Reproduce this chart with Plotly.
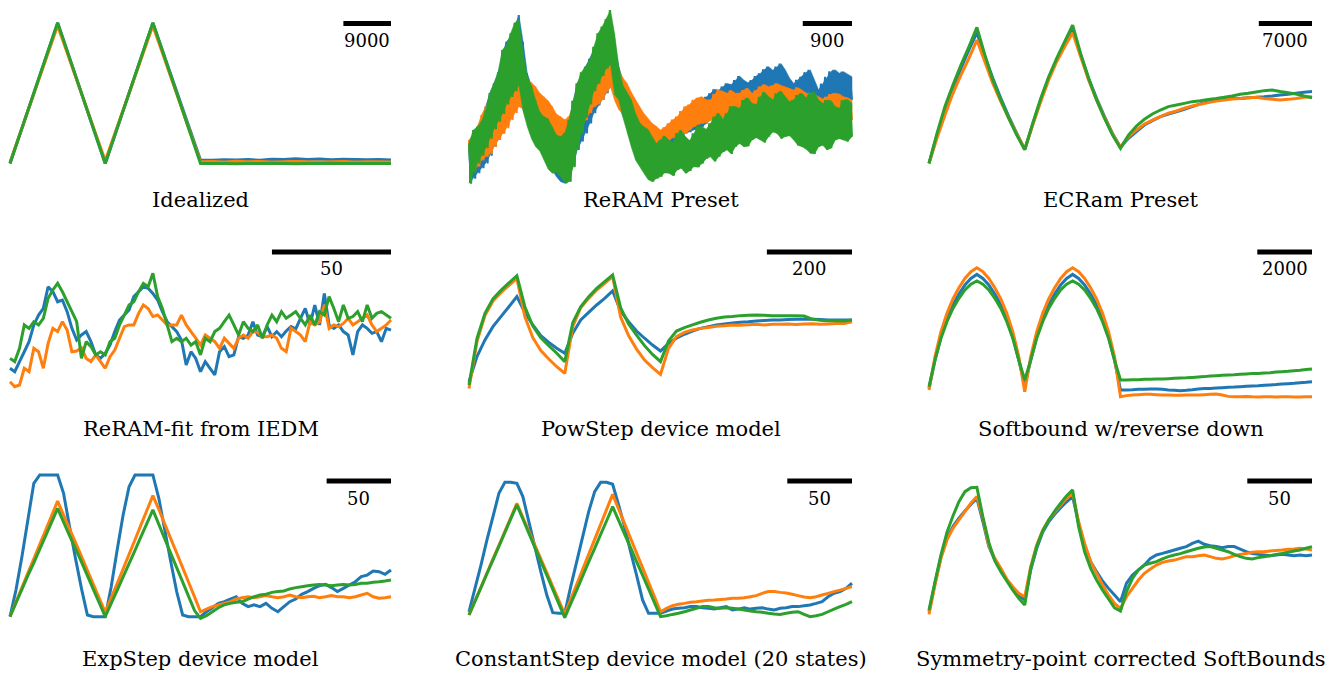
import numpy as np
import plotly.graph_objects as go

W, H = 1326, 675
BLUE, ORANGE, GREEN = "#1f77b4", "#ff7f0e", "#2ca02c"
FONT = "DejaVu Serif"

# ---------------------------------------------------------------- panel meta
titles = [
    "Idealized", "ReRAM Preset", "ECRam Preset",
    "ReRAM-fit from IEDM", "PowStep device model", "Softbound w/reverse down",
    "ExpStep device model", "ConstantStep device model (20 states)",
    "Symmetry-point corrected SoftBounds",
]
pulse_span = [72000, 7000, 50400, 160, 900, 14000, 296, 296, 296]
bar_len = [9000, 900, 7000, 50, 200, 2000, 50, 50, 50]
bar_text = ["9000", "900", "7000", "50", "200", "2000", "50", "50", "50"]

# ---------------------------------------------------------------- Idealized
ideal_x = [0, 9000, 18000, 27000, 36000, 38250, 40500, 42750, 45000, 47250,
           49500, 51750, 54000, 56250, 58500, 60750, 63000, 65250, 67500,
           69750, 72000]
ideal_blue = [14.0, 87.9, 14.0, 87.9, 15.8, 15.6, 15.9, 15.8, 16.0, 15.7, 16.2,
              16.0, 16.4, 16.1, 16.3, 15.9, 16.2, 16.0, 15.9, 16.1, 15.8]
ideal_orange = [14.6, 86.4, 15.4, 86.4, 14.9, 15.0, 14.8, 15.1, 14.9, 15.0, 14.8,
                14.9, 15.0, 14.9, 14.8, 14.9, 15.0, 14.8, 14.9, 14.9, 14.8]
ideal_green = [14.0, 88.1, 14.0, 88.1, 14.0, 13.9, 14.0, 13.8, 14.0, 13.9, 14.1,
               13.9, 13.8, 14.0, 13.9, 14.1, 13.9, 14.0, 13.9, 14.0, 14.0]

# ---------------------------------------------------------------- ReRAM preset
# upper / lower extremes of the fast pulse-to-pulse noise, per device
reram_blue_hi = [22.8, 29.5, 33.3, 37.0, 43.9, 51.0, 56.1, 62.0, 71.9, 78.0, 80.7, 86.0,
                 92.1, 78.0, 61.4, 55.0, 49.1, 44.5, 40.4, 37.0, 33.3, 30.5, 29.8, 31.0,
                 36.8, 47.0, 56.1, 60.5, 64.9, 69.0, 73.7, 79.5, 82.5, 85.0, 89.5, 78.0,
                 64.9, 57.5, 50.9, 46.0, 43.9, 42.0, 38.6, 34.0, 31.6, 31.5, 29.8, 30.0,
                 31.6, 33.5, 35.1, 37.5, 40.4, 42.5, 43.9, 45.5, 47.4, 49.0, 50.9, 53.0,
                 52.6, 54.5, 56.1, 55.5, 57.9, 60.0, 57.9, 56.5, 57.9, 60.0, 61.4, 63.5,
                 64.9, 63.0, 64.9, 66.5, 63.2, 59.0, 56.1, 58.0, 59.6, 62.0, 63.2, 58.0,
                 52.6, 56.0, 59.6, 62.5, 63.2, 61.5, 62.3, 61.0, 59.6]
reram_blue_lo = [3.5, 6.0, 8.8, 11.5, 14.0, 18.0, 22.8, 26.5, 29.8, 34.0, 38.6, 43.5,
                 49.1, 42.0, 35.1, 29.5, 24.6, 21.0, 17.5, 14.0, 10.5, 7.0, 4.4, 3.5,
                 4.4, 12.5, 21.1, 25.5, 29.8, 35.0, 40.4, 44.5, 47.4, 51.0, 54.4, 49.0,
                 43.9, 38.5, 33.3, 29.5, 26.3, 23.5, 21.1, 20.0, 19.3, 20.5, 21.1, 21.5,
                 22.8, 24.5, 26.3, 28.0, 29.8, 30.5, 31.6, 32.5, 33.3, 35.0, 36.8, 37.5,
                 38.6, 40.5, 42.1, 43.0, 43.9, 44.5, 45.6, 46.5, 47.4, 47.0, 47.4, 48.5,
                 49.1, 50.5, 50.9, 50.0, 49.1, 48.0, 47.4, 47.0, 47.4, 48.5, 49.1, 47.5,
                 45.6, 46.0, 47.4, 48.5, 49.1, 48.5, 49.1, 48.0, 47.4]
reram_orange_hi = [26.3, 29.0, 33.3, 39.5, 43.9, 47.0, 52.6, 57.5, 59.6, 61.0, 64.9, 67.0,
                   67.5, 61.5, 57.9, 56.5, 54.4, 51.0, 49.1, 47.0, 43.9, 40.0, 38.6, 37.0,
                   38.6, 44.0, 49.1, 52.0, 56.1, 60.5, 63.2, 65.0, 68.4, 73.5, 77.2, 70.0,
                   63.2, 59.0, 56.1, 51.5, 47.4, 44.0, 40.4, 37.5, 35.1, 33.5, 31.6, 33.0,
                   35.1, 37.0, 38.6, 41.5, 43.9, 45.0, 47.4, 48.5, 49.1, 47.5, 47.4, 50.5,
                   52.6, 52.0, 50.9, 52.5, 50.9, 51.0, 52.6, 53.5, 50.9, 52.5, 54.4, 55.5,
                   54.4, 55.0, 56.1, 55.0, 54.4, 53.5, 52.6, 54.0, 52.6, 51.0, 50.9, 50.5,
                   49.1, 48.0, 49.1, 50.5, 50.9, 50.5, 49.1, 48.5, 47.4]
reram_orange_lo = [8.8, 10.0, 12.3, 15.5, 17.5, 19.0, 22.8, 26.5, 29.8, 32.5, 36.8, 40.5,
                   43.9, 42.5, 42.1, 40.0, 38.6, 35.5, 33.3, 31.0, 28.1, 25.0, 22.8, 21.5,
                   22.8, 26.5, 29.8, 33.0, 36.8, 40.5, 43.9, 45.0, 47.4, 51.5, 54.4, 47.0,
                   42.1, 40.0, 36.8, 32.5, 29.8, 28.5, 26.3, 25.0, 24.6, 23.0, 22.8, 24.5,
                   26.3, 27.5, 28.1, 28.5, 29.8, 31.5, 33.3, 34.5, 35.1, 35.5, 36.8, 37.5,
                   38.6, 38.0, 38.6, 39.5, 40.4, 41.5, 40.4, 39.0, 40.4, 41.5, 42.1, 43.0,
                   43.9, 43.5, 42.1, 41.0, 40.4, 39.5, 38.6, 37.5, 36.8, 37.5, 36.8, 37.5,
                   38.6, 35.5, 33.3, 31.5, 29.8, 32.5, 35.1, 36.5, 36.8]
reram_green_hi = [24.6, 31.5, 33.3, 36.0, 42.1, 51.0, 56.1, 62.0, 73.7, 76.0, 82.5, 88.0,
                  89.5, 72.0, 59.6, 55.0, 47.4, 41.0, 38.6, 37.5, 33.3, 29.0, 28.1, 30.0,
                  36.8, 47.0, 56.1, 62.0, 64.9, 68.0, 75.4, 82.5, 86.0, 90.0, 94.7, 82.0,
                  64.9, 55.0, 50.9, 47.5, 40.4, 35.5, 33.3, 32.0, 28.1, 24.5, 26.3, 28.5,
                  26.3, 25.0, 29.8, 31.5, 28.1, 26.0, 29.8, 33.5, 33.3, 32.0, 35.1, 38.5,
                  40.4, 37.5, 40.4, 44.0, 43.9, 43.0, 47.4, 48.5, 45.6, 45.0, 49.1, 51.5,
                  49.1, 47.5, 50.9, 52.0, 49.1, 46.5, 47.4, 50.0, 50.9, 48.5, 50.9, 51.5,
                  47.4, 45.5, 47.4, 47.0, 43.9, 43.0, 47.4, 47.5, 45.6]
reram_green_lo = [3.5, 9.0, 14.0, 18.0, 22.0, 27.0, 32.0, 36.0, 40.0, 45.0, 49.0, 52.0,
                  55.0, 41.5, 33.3, 27.0, 22.8, 20.5, 15.8, 11.0, 8.8, 9.5, 7.0, 4.0,
                  4.4, 12.0, 22.0, 30.0, 38.0, 45.0, 52.0, 56.0, 60.0, 64.0, 66.0, 50.0,
                  47.4, 38.0, 29.8, 22.5, 15.8, 12.5, 8.8, 5.5, 4.4, 6.0, 7.0, 9.0,
                  8.8, 7.5, 10.5, 11.5, 8.8, 10.0, 12.3, 12.0, 14.0, 16.5, 17.5, 15.0,
                  17.5, 20.0, 21.1, 19.0, 22.8, 24.5, 22.8, 23.0, 26.3, 27.5, 26.3, 25.0,
                  28.1, 30.5, 29.8, 27.0, 28.1, 28.5, 26.3, 23.5, 22.8, 21.5, 19.3, 19.0,
                  22.8, 23.5, 21.1, 22.0, 26.3, 27.0, 26.3, 25.5, 28.1]

# ---------------------------------------------------------------- ECRam preset
ecram_blue = [14.0, 28.9, 42.1, 53.5, 64.0, 73.7, 82.8, 70.2, 58.8, 48.2, 38.6, 29.8,
              21.4, 34.7, 47.4, 58.8, 68.4, 76.3, 84.2, 71.1, 58.8, 48.2, 38.6, 29.8,
              22.5, 27.2, 30.7, 34.2, 36.5, 38.6, 40.0, 41.2, 42.5, 43.9, 45.3, 46.5,
              47.4, 47.7, 48.1, 48.2, 48.6, 48.8, 49.1, 49.5, 50.0, 50.4, 50.9, 51.4, 51.8]
ecram_orange = [14.0, 27.2, 39.5, 50.9, 60.5, 69.3, 78.9, 67.5, 56.1, 46.5, 37.7, 29.5,
                21.4, 34.2, 46.5, 57.9, 67.5, 75.4, 82.8, 70.2, 57.9, 47.4, 38.2, 29.5,
                22.5, 28.1, 31.6, 34.7, 36.8, 38.6, 40.4, 41.6, 43.0, 44.2, 45.1, 46.0,
                46.8, 47.4, 47.9, 48.2, 48.6, 48.8, 48.2, 47.7, 47.4, 47.7, 48.2, 48.8, 49.1]
ecram_green = [14.0, 29.8, 43.9, 55.3, 65.8, 75.4, 85.6, 71.1, 57.9, 47.4, 37.7, 28.9,
               21.1, 35.1, 48.2, 59.6, 69.3, 78.1, 86.8, 71.9, 58.8, 47.4, 37.7, 28.9,
               21.9, 28.9, 33.7, 37.2, 40.0, 42.1, 43.9, 44.7, 45.6, 46.5, 47.0, 47.7,
               48.2, 48.8, 49.5, 50.4, 50.9, 51.6, 52.3, 52.6, 51.8, 51.2, 50.5, 49.5, 48.6]

# ---------------------------------------------------------------- ReRAM-fit from IEDM
fit_blue = [24.6, 22.8, 28.1, 33.3, 38.6, 47.4, 52.6, 56.1, 67.5, 64.9, 59.6, 60.5,
            54.4, 45.6, 39.5, 42.1, 43.9, 38.6, 31.6, 29.8, 32.5, 36.8, 43.9, 50.0,
            52.6, 55.3, 62.3, 64.9, 67.5, 66.7, 64.0, 60.5, 54.4, 49.1, 46.5, 43.9,
            39.5, 26.3, 33.3, 29.8, 22.8, 28.1, 24.6, 21.1, 33.3, 36.0, 30.7, 31.6,
            41.2, 40.4, 42.1, 49.1, 42.1, 41.2, 46.5, 41.2, 43.9, 41.2, 44.2, 46.5,
            45.3, 50.9, 56.1, 47.4, 57.9, 47.4, 64.0, 47.4, 45.6, 47.4, 43.9, 42.1,
            31.6, 43.9, 47.4, 45.6, 43.0, 43.9, 38.6, 45.6, 44.7]
fit_orange = [17.5, 14.9, 15.8, 24.6, 22.8, 35.1, 33.3, 24.6, 37.7, 45.6, 43.9, 49.1,
              44.7, 33.3, 33.7, 35.4, 29.8, 28.1, 31.6, 28.1, 24.6, 30.7, 34.2, 40.4,
              46.5, 47.4, 47.4, 53.5, 57.9, 56.1, 51.8, 52.6, 50.0, 47.4, 47.4, 47.4,
              52.6, 47.4, 43.9, 40.4, 36.8, 42.1, 40.4, 38.6, 35.1, 40.4, 37.7, 35.1,
              40.4, 42.1, 40.4, 43.9, 43.5, 41.2, 41.2, 42.1, 40.4, 35.1, 33.3, 45.6,
              43.9, 42.1, 38.6, 49.1, 47.4, 49.1, 57.9, 45.6, 47.4, 46.5, 48.2, 50.9,
              47.4, 49.1, 50.9, 52.6, 47.4, 43.9, 45.6, 47.4, 50.0]
fit_green = [29.8, 28.1, 35.1, 47.4, 45.6, 49.1, 47.4, 50.9, 61.4, 65.8, 69.3, 64.9,
             59.6, 54.4, 49.1, 29.8, 38.6, 36.0, 31.6, 33.3, 31.6, 38.6, 40.4, 47.4,
             52.6, 57.9, 59.6, 64.9, 69.3, 67.5, 74.6, 62.3, 56.1, 47.4, 38.6, 40.4,
             38.6, 40.4, 36.8, 38.6, 31.6, 40.4, 38.6, 43.9, 45.6, 49.1, 52.6, 47.4,
             42.1, 49.1, 45.6, 43.9, 47.4, 40.4, 47.4, 52.6, 49.1, 54.4, 50.9, 52.6,
             54.4, 50.9, 47.4, 52.6, 47.4, 54.4, 52.6, 62.3, 56.1, 49.1, 57.9, 50.9,
             51.8, 54.4, 49.1, 57.9, 50.9, 53.5, 54.4, 52.6, 50.9]

# ---------------------------------------------------------------- PowStep
pow_blue = [17.5, 30.7, 39.5, 46.5, 51.8, 57.0, 62.3, 54.0, 47.4, 41.8, 38.2, 35.1,
            32.5, 43.0, 50.0, 54.0, 57.9, 61.4, 65.3, 54.7, 49.1, 44.2, 40.4, 36.8,
            33.7, 37.7, 40.4, 42.5, 44.2, 45.6, 46.5, 47.4, 47.9, 48.4, 48.8, 49.1,
            49.5, 49.8, 50.0, 50.0, 50.2, 50.4, 50.4, 50.4, 50.2, 50.0, 50.0, 50.0, 50.0]
pow_orange = [14.0, 38.6, 52.3, 60.0, 64.4, 68.2, 71.9, 51.8, 40.7, 33.9, 29.5, 25.4,
              21.9, 46.5, 56.5, 61.4, 65.8, 69.3, 72.8, 51.6, 41.8, 34.7, 28.9, 24.9,
              21.4, 35.1, 41.2, 43.5, 44.7, 45.6, 46.1, 46.7, 47.0, 47.4, 47.2, 47.5,
              47.7, 47.4, 47.8, 47.7, 47.9, 47.6, 47.9, 48.0, 47.7, 47.9, 48.1, 48.2, 49.1]
pow_green = [15.8, 40.4, 53.5, 61.1, 65.6, 69.5, 73.3, 57.0, 46.8, 40.7, 36.5, 32.5,
             28.1, 48.6, 57.0, 62.3, 66.7, 70.2, 73.7, 56.5, 47.9, 42.1, 36.5, 31.9,
             28.1, 38.9, 44.2, 46.0, 47.4, 48.8, 50.0, 50.9, 51.6, 51.9, 52.3, 52.5,
             52.6, 52.5, 52.3, 52.3, 52.3, 52.3, 52.1, 50.5, 49.8, 49.6, 49.6, 49.5, 50.0]

# ---------------------------------------------------------------- Softbound w/reverse down
sb_blue = [14.0, 28.9, 41.2, 50.5, 57.9, 63.7, 68.4, 71.9, 74.0,
           71.9, 68.4, 63.7, 57.9, 50.5, 41.2, 28.9, 15.8,
           28.9, 41.2, 50.5, 57.9, 63.7, 68.4, 71.9, 74.0,
           71.9, 68.4, 63.7, 57.9, 50.5, 41.2, 28.9, 13.2,
           13.2, 13.3, 13.5, 13.5, 13.7, 13.7, 13.5, 13.2, 13.0, 12.8, 13.0, 13.3,
           13.7, 13.9, 14.0, 14.2, 14.4, 14.6, 14.7, 14.9, 15.1, 15.3, 15.4, 15.6,
           15.8, 16.0, 16.3, 16.5, 16.7, 17.0, 17.2, 17.5]
sb_orange = [13.2, 30.7, 43.9, 53.5, 61.1, 67.0, 71.9, 75.4, 77.5,
             75.4, 71.9, 67.0, 61.1, 53.5, 43.9, 30.7, 12.3,
             30.7, 43.9, 53.5, 61.1, 67.0, 71.9, 75.4, 77.5,
             75.4, 71.9, 67.0, 61.1, 53.5, 43.9, 30.7, 9.6,
             10.2, 10.5, 10.7, 10.9, 10.9, 10.7, 10.5, 10.5, 10.4, 10.4, 10.5, 10.5,
             10.5, 10.7, 10.9, 11.1, 10.5, 9.8, 9.6, 9.6, 9.8, 9.6, 9.5, 9.6,
             9.6, 9.5, 9.6, 9.6, 9.5, 9.5, 9.6, 9.6]
sb_green = [14.9, 28.9, 40.4, 49.1, 56.1, 61.4, 65.8, 68.8, 70.5,
            68.8, 65.8, 61.4, 56.1, 49.1, 40.4, 28.9, 18.4,
            28.9, 40.4, 49.1, 56.1, 61.4, 65.8, 68.8, 70.5,
            68.8, 65.8, 61.4, 56.1, 49.1, 40.4, 28.9, 18.4,
            18.4, 18.6, 18.6, 18.8, 18.8, 18.9, 18.9, 19.1, 19.3, 19.5, 19.6, 19.8,
            20.0, 20.2, 20.5, 20.7, 20.9, 21.1, 21.2, 21.4, 21.6, 21.8, 21.9, 22.1,
            22.3, 22.6, 22.8, 23.0, 23.3, 23.5, 23.9, 24.2]

# ---------------------------------------------------------------- ExpStep
exp_blue = [14.9, 28.9, 46.5, 65.8, 85.1, 89.5, 89.5, 89.5, 89.5,
            79.8, 62.3, 45.6, 29.8, 15.8, 14.9, 14.9, 14.9,
            30.7, 50.0, 68.4, 83.3, 89.5, 89.5, 89.5, 89.5,
            77.2, 60.5, 43.9, 28.1, 15.8, 14.9, 14.9, 14.9,
            17.5, 19.6, 21.9, 22.8, 24.2, 25.4, 21.9, 20.2, 21.1, 20.2, 21.9, 19.3,
            17.5, 20.2, 22.8, 24.2, 26.7, 28.1, 29.8, 31.2, 31.9, 30.2, 28.1, 29.8,
            31.6, 33.3, 36.0, 36.8, 38.9, 38.6, 37.2, 39.5]
exp_orange = [14.9, 22.6, 30.2, 37.9, 45.3, 53.0, 60.5, 68.1, 75.8,
              68.4, 61.1, 54.0, 46.7, 39.3, 31.9, 24.6, 17.2,
              24.9, 32.3, 40.0, 47.7, 55.4, 63.2, 70.9, 78.6,
              71.4, 63.7, 56.0, 48.4, 40.7, 33.0, 25.3, 17.5,
              18.9, 20.2, 21.1, 21.9, 22.8, 24.2, 24.9, 25.4, 24.9, 25.4, 26.0, 25.4,
              24.9, 25.4, 26.3, 25.4, 24.9, 25.4, 25.6, 24.9, 25.4, 26.0, 25.4, 25.4,
              24.9, 25.4, 26.3, 27.2, 25.4, 24.6, 24.9, 25.4]
exp_green = [14.9, 22.1, 29.3, 36.5, 43.2, 50.4, 57.5, 64.7, 71.9,
             64.7, 57.5, 50.9, 43.7, 36.5, 29.3, 22.1, 14.9,
             21.9, 28.8, 35.8, 42.8, 49.8, 57.0, 64.0, 71.1,
             63.5, 55.8, 48.2, 40.7, 33.2, 25.6, 18.1, 14.0,
             15.4, 17.5, 19.6, 21.1, 21.9, 22.5, 22.8, 24.2, 25.4, 26.3, 26.7, 27.7,
             28.1, 28.4, 29.5, 30.2, 30.7, 31.2, 31.6, 31.9, 31.6, 31.2, 31.6, 31.9,
             31.6, 31.9, 32.5, 32.5, 33.0, 33.3, 33.7, 34.2]

# ---------------------------------------------------------------- ConstantStep (20 states)
cs_blue = [17.5, 29.8, 42.1, 55.3, 67.5, 79.8, 85.6, 85.6, 85.1,
           78.1, 64.9, 51.8, 38.6, 26.3, 17.0, 16.7, 16.7,
           30.7, 43.9, 57.0, 70.2, 80.7, 85.6, 85.6, 84.6,
           73.7, 62.3, 49.1, 36.8, 23.7, 16.7, 16.7, 16.7,
           17.9, 18.9, 19.3, 19.6, 20.2, 20.2, 19.6, 19.3, 18.9, 19.6, 20.2, 18.4,
           18.9, 19.6, 18.9, 19.3, 19.6, 18.9, 18.4, 19.3, 19.6, 20.2, 20.2, 20.7,
           21.1, 21.9, 22.8, 25.4, 27.2, 28.1, 29.8, 32.5]
cs_orange = [15.8, 23.2, 30.5, 37.9, 45.3, 52.5, 59.8, 67.2, 74.6,
             67.2, 60.0, 52.6, 45.4, 38.1, 30.7, 23.5, 16.1,
             24.0, 31.9, 39.8, 47.7, 55.6, 63.5, 71.4, 79.3,
             71.6, 63.9, 56.1, 48.4, 40.7, 33.0, 25.3, 17.5,
             19.3, 20.7, 21.4, 21.9, 22.5, 22.8, 23.2, 23.5, 23.7, 24.0, 24.2, 24.6,
             24.6, 24.9, 25.4, 26.0, 27.2, 28.1, 28.1, 27.7, 27.4, 26.7, 26.0, 25.3,
             24.9, 25.4, 26.3, 27.2, 28.1, 28.9, 29.8, 30.7]
cs_green = [15.8, 23.0, 30.2, 37.5, 44.7, 51.9, 59.3, 66.5, 73.7,
            66.3, 58.9, 51.4, 44.0, 36.7, 29.3, 21.8, 14.4,
            21.8, 28.9, 36.3, 43.7, 50.9, 58.2, 65.4, 72.8,
            65.6, 58.4, 51.2, 43.9, 36.7, 29.5, 22.1, 14.9,
            15.4, 16.1, 16.7, 17.5, 18.4, 19.3, 20.2, 20.2, 19.6, 19.3, 19.6, 19.3,
            18.9, 18.4, 17.9, 17.5, 17.2, 16.7, 16.3, 16.1, 16.7, 17.2, 17.5, 16.1,
            14.9, 15.4, 16.1, 17.5, 18.9, 20.2, 21.4, 22.8]

# ---------------------------------------------------------------- Symmetry-point corrected SoftBounds
sp_blue = [17.5, 32.5, 46.5, 56.1, 62.3, 66.7, 70.5, 74.0, 77.2,
           64.9, 51.8, 44.7, 39.5, 34.2, 29.8, 26.3, 23.7,
           39.5, 50.9, 59.3, 64.9, 68.8, 72.3, 75.4, 78.1,
           64.0, 52.6, 43.9, 38.6, 33.7, 29.8, 26.3, 22.8,
           32.5, 36.8, 39.5, 42.1, 45.6, 47.4, 48.2, 49.1, 50.0, 50.9, 51.8, 53.5,
           54.7, 53.0, 52.3, 51.8, 51.2, 51.8, 51.8, 50.5, 49.1, 48.2, 47.7, 47.4,
           47.0, 47.4, 47.7, 47.4, 47.0, 47.4, 47.0, 47.4]
sp_orange = [16.1, 31.6, 45.6, 55.3, 61.4, 65.8, 70.2, 74.6, 78.1,
             66.7, 52.3, 45.6, 40.4, 34.7, 30.7, 27.2, 25.4,
             41.2, 52.6, 60.5, 65.8, 69.8, 73.7, 77.2, 79.8,
             64.9, 53.5, 43.9, 37.7, 31.6, 26.3, 21.9, 19.3,
             25.4, 29.8, 34.2, 37.7, 40.0, 42.1, 43.5, 44.2, 44.7, 45.6, 46.5, 46.5,
             47.0, 47.4, 46.5, 45.6, 45.3, 46.0, 47.0, 47.7, 48.2, 48.8, 49.1, 49.1,
             49.5, 49.8, 50.0, 50.4, 50.5, 50.9, 50.5, 50.0]
sp_green = [18.4, 33.3, 47.4, 59.3, 67.9, 75.4, 80.7, 82.8, 83.0,
            67.5, 54.0, 44.2, 38.6, 33.7, 28.9, 24.6, 21.1,
            40.4, 51.8, 60.0, 65.8, 70.5, 74.6, 78.6, 81.6,
            62.3, 49.1, 40.4, 34.2, 28.9, 24.2, 19.6, 17.9,
            28.1, 35.1, 39.5, 42.1, 43.0, 43.9, 45.3, 46.5, 47.4, 48.1, 49.1, 50.0,
            50.9, 51.6, 51.8, 50.9, 50.0, 49.1, 47.7, 46.5, 45.6, 45.3, 46.0, 46.5,
            47.0, 47.7, 48.2, 48.8, 49.5, 50.0, 50.9, 51.8]

# ---------------------------------------------------------------- layout boxes (pixels)
COL_PX = [(10, 391), (469, 852), (929, 1312)]
ROW_PX = [(0, 190), (225, 415), (455, 645)]
TITLE_Y = [199.5, 429.5, 659]
BAR_Y = [23.5, 252, 481]
LABEL_DY = 17
PAD = 2.5
LW = 3

fig = go.Figure()


def axis_names(i):
    s = "" if i == 0 else str(i + 1)
    return "x" + s, "y" + s


def add_line(i, x, y, color, width=LW):
    xa, ya = axis_names(i)
    fig.add_trace(go.Scatter(x=x, y=y, mode="lines", xaxis=xa, yaxis=ya,
                             line=dict(color=color, width=width, simplify=False),
                             hoverinfo="skip", showlegend=False))


def add_noisy(i, hi, lo, color):
    xa, ya = axis_names(i)
    xs = np.linspace(0, pulse_span[i], len(hi))
    # solid body of the noise band
    fig.add_trace(go.Scatter(x=np.concatenate([xs, xs[::-1]]),
                             y=np.concatenate([hi, lo[::-1]]),
                             mode="lines", fill="toself", fillcolor=color,
                             line=dict(color=color, width=0.5),
                             xaxis=xa, yaxis=ya, hoverinfo="skip", showlegend=False))
    # pulse-to-pulse excursions between the extremes
    trace = [v for pair in zip(hi, lo) for v in pair]
    add_line(i, np.linspace(0, pulse_span[i], len(trace)), trace, color, width=2)


def uniform(i, y):
    return np.linspace(0, pulse_span[i], len(y))


# Idealized
for y, c in [(ideal_blue, BLUE), (ideal_orange, ORANGE), (ideal_green, GREEN)]:
    add_line(0, ideal_x, y, c)

# ReRAM preset
for hi, lo, c in [(reram_blue_hi, reram_blue_lo, BLUE),
                  (reram_orange_hi, reram_orange_lo, ORANGE),
                  (reram_green_hi, reram_green_lo, GREEN)]:
    add_noisy(1, np.asarray(hi), np.asarray(lo), c)

series = {
    2: (ecram_blue, ecram_orange, ecram_green),
    3: (fit_blue, fit_orange, fit_green),
    4: (pow_blue, pow_orange, pow_green),
    5: (sb_blue, sb_orange, sb_green),
    6: (exp_blue, exp_orange, exp_green),
    7: (cs_blue, cs_orange, cs_green),
    8: (sp_blue, sp_orange, sp_green),
}
for i, trio in series.items():
    for y, c in zip(trio, (BLUE, ORANGE, GREEN)):
        add_line(i, uniform(i, y), y, c)

layout = dict(width=W, height=H, margin=dict(l=0, r=0, t=0, b=0),
              paper_bgcolor="white", plot_bgcolor="white", showlegend=False)
shapes, annotations = [], []
for i in range(9):
    r, c = divmod(i, 3)
    x0, x1 = COL_PX[c]
    y0, y1 = ROW_PX[r]
    span = pulse_span[i]
    pad_units = span * PAD / (x1 - x0)
    key = "" if i == 0 else str(i + 1)
    layout["xaxis" + key] = dict(domain=[(x0 - PAD) / W, (x1 + PAD) / W],
                                 range=[-pad_units, span + pad_units],
                                 visible=False, anchor="y" + key)
    layout["yaxis" + key] = dict(domain=[1 - y1 / H, 1 - y0 / H], range=[0, 100],
                                 visible=False, anchor="x" + key)
    xa, ya = axis_names(i)
    bar_dom = (y1 - BAR_Y[r]) / (y1 - y0)
    lab_dom = (y1 - BAR_Y[r] - LABEL_DY) / (y1 - y0)
    shapes.append(dict(type="line", xref=xa, yref=ya + " domain",
                       x0=span - bar_len[i], x1=span, y0=bar_dom, y1=bar_dom,
                       line=dict(color="black", width=5)))
    annotations.append(dict(x=span - bar_len[i] / 2, y=lab_dom, xref=xa,
                            yref=ya + " domain", text=bar_text[i], showarrow=False,
                            xanchor="center", yanchor="middle",
                            font=dict(family=FONT, size=18, color="black")))
    annotations.append(dict(x=(x0 + x1) / 2 / W, y=1 - TITLE_Y[r] / H,
                            xref="paper", yref="paper", text=titles[i],
                            showarrow=False, xanchor="center", yanchor="middle",
                            font=dict(family=FONT, size=21, color="black")))

layout["shapes"] = shapes
layout["annotations"] = annotations
fig.update_layout(**layout)
fig.write_html("out.html")
